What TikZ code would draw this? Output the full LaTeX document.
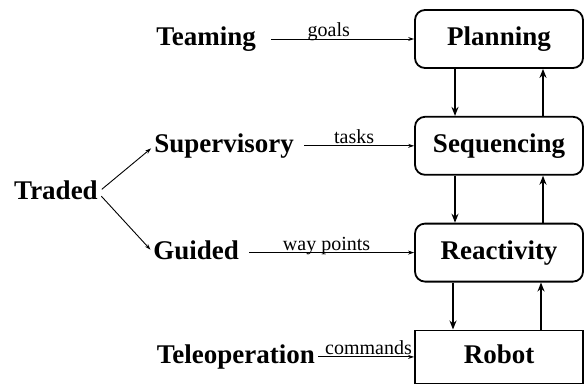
\documentclass[tikz,border=0pt]{standalone}
\usepackage{fontspec}
\setmainfont{Liberation Serif}
\usetikzlibrary{positioning,arrows.meta}

\begin{document}
\begin{tikzpicture}[
  x=1pt, y=1pt,
  node distance=47pt,
  layerbox/.style={rectangle, rounded corners=10pt, draw=black, line width=1.8pt,
            minimum width=168pt, minimum height=58pt, text height=19pt, text depth=6pt,
            font=\fontsize{27}{30}\selectfont\bfseries},
  modename/.style={inner sep=0pt, text height=19pt, text depth=6pt,
            font=\fontsize{27}{30}\selectfont\bfseries},
  cmdtext/.style={inner sep=0pt, above=2pt, text depth=0pt,
            font=\fontsize{20}{22}\selectfont},
  flow/.style={draw, -{Stealth[length=9pt,width=7pt]}, line width=1.6pt},   % between layers
  cmd/.style={draw, -{Stealth[length=6pt,width=4pt]}, line width=0.9pt, shorten <=10pt}
]
  \useasboundingbox (0,0) rectangle (585,-384);

  % layers
  \node[layerbox] (Plan) at (499,-39) {Planning};
  \node[layerbox] (Seq) [below=of Plan] {Sequencing};
  \node[layerbox] (React) [below=of Seq] {Reactivity};
  \node[layerbox, rounded corners=0pt, minimum height=53pt] (Robot) [below=of React] {Robot};

  % modes of control
  \node[modename] (Team) [left=158pt of Plan] {Teaming};
  \node[modename] (Sup) [left=120pt of Seq] {Supervisory};
  \node[modename] (Guid) [left=175pt of React] {Guided};
  \node[modename] (Tele) [left=99pt of Robot] {Teleoperation};
  \node[modename] (Trad) at (56,-192.5) {Traded};

  \draw[cmd, shorten <=15pt] (Team) -- node[cmdtext, pos=0.46] {goals} (Plan);
  \draw[cmd] (Sup) -- node[cmdtext] {tasks} (Seq);
  \draw[cmd] (Guid) -- node[cmdtext] {way points} (React);
  \draw[cmd, shorten <=3pt] (Tele) -- node[cmdtext, pos=0.54] {commands} (Robot);

  \draw[cmd, shorten <=5pt, shorten >=4pt] (Trad.east) -- (Sup.west);
  \draw[cmd, shorten <=5pt, shorten >=4pt] (Trad.east) -- (Guid.west);

  % down and up between layers
  \draw[flow] ([xshift=-44pt]Plan.south) -- ([xshift=-44pt]Seq.north);
  \draw[flow] ([xshift=44pt]Seq.north) -- ([xshift=44pt]Plan.south);
  \draw[flow] ([xshift=-44pt]Seq.south) -- ([xshift=-44pt]React.north);
  \draw[flow] ([xshift=44pt]React.north) -- ([xshift=44pt]Seq.south);
  \draw[flow] ([xshift=-46pt]React.south) -- ([xshift=-46pt]Robot.north);
  \draw[flow] ([xshift=42pt]Robot.north) -- ([xshift=42pt]React.south);
\end{tikzpicture}
\end{document}
